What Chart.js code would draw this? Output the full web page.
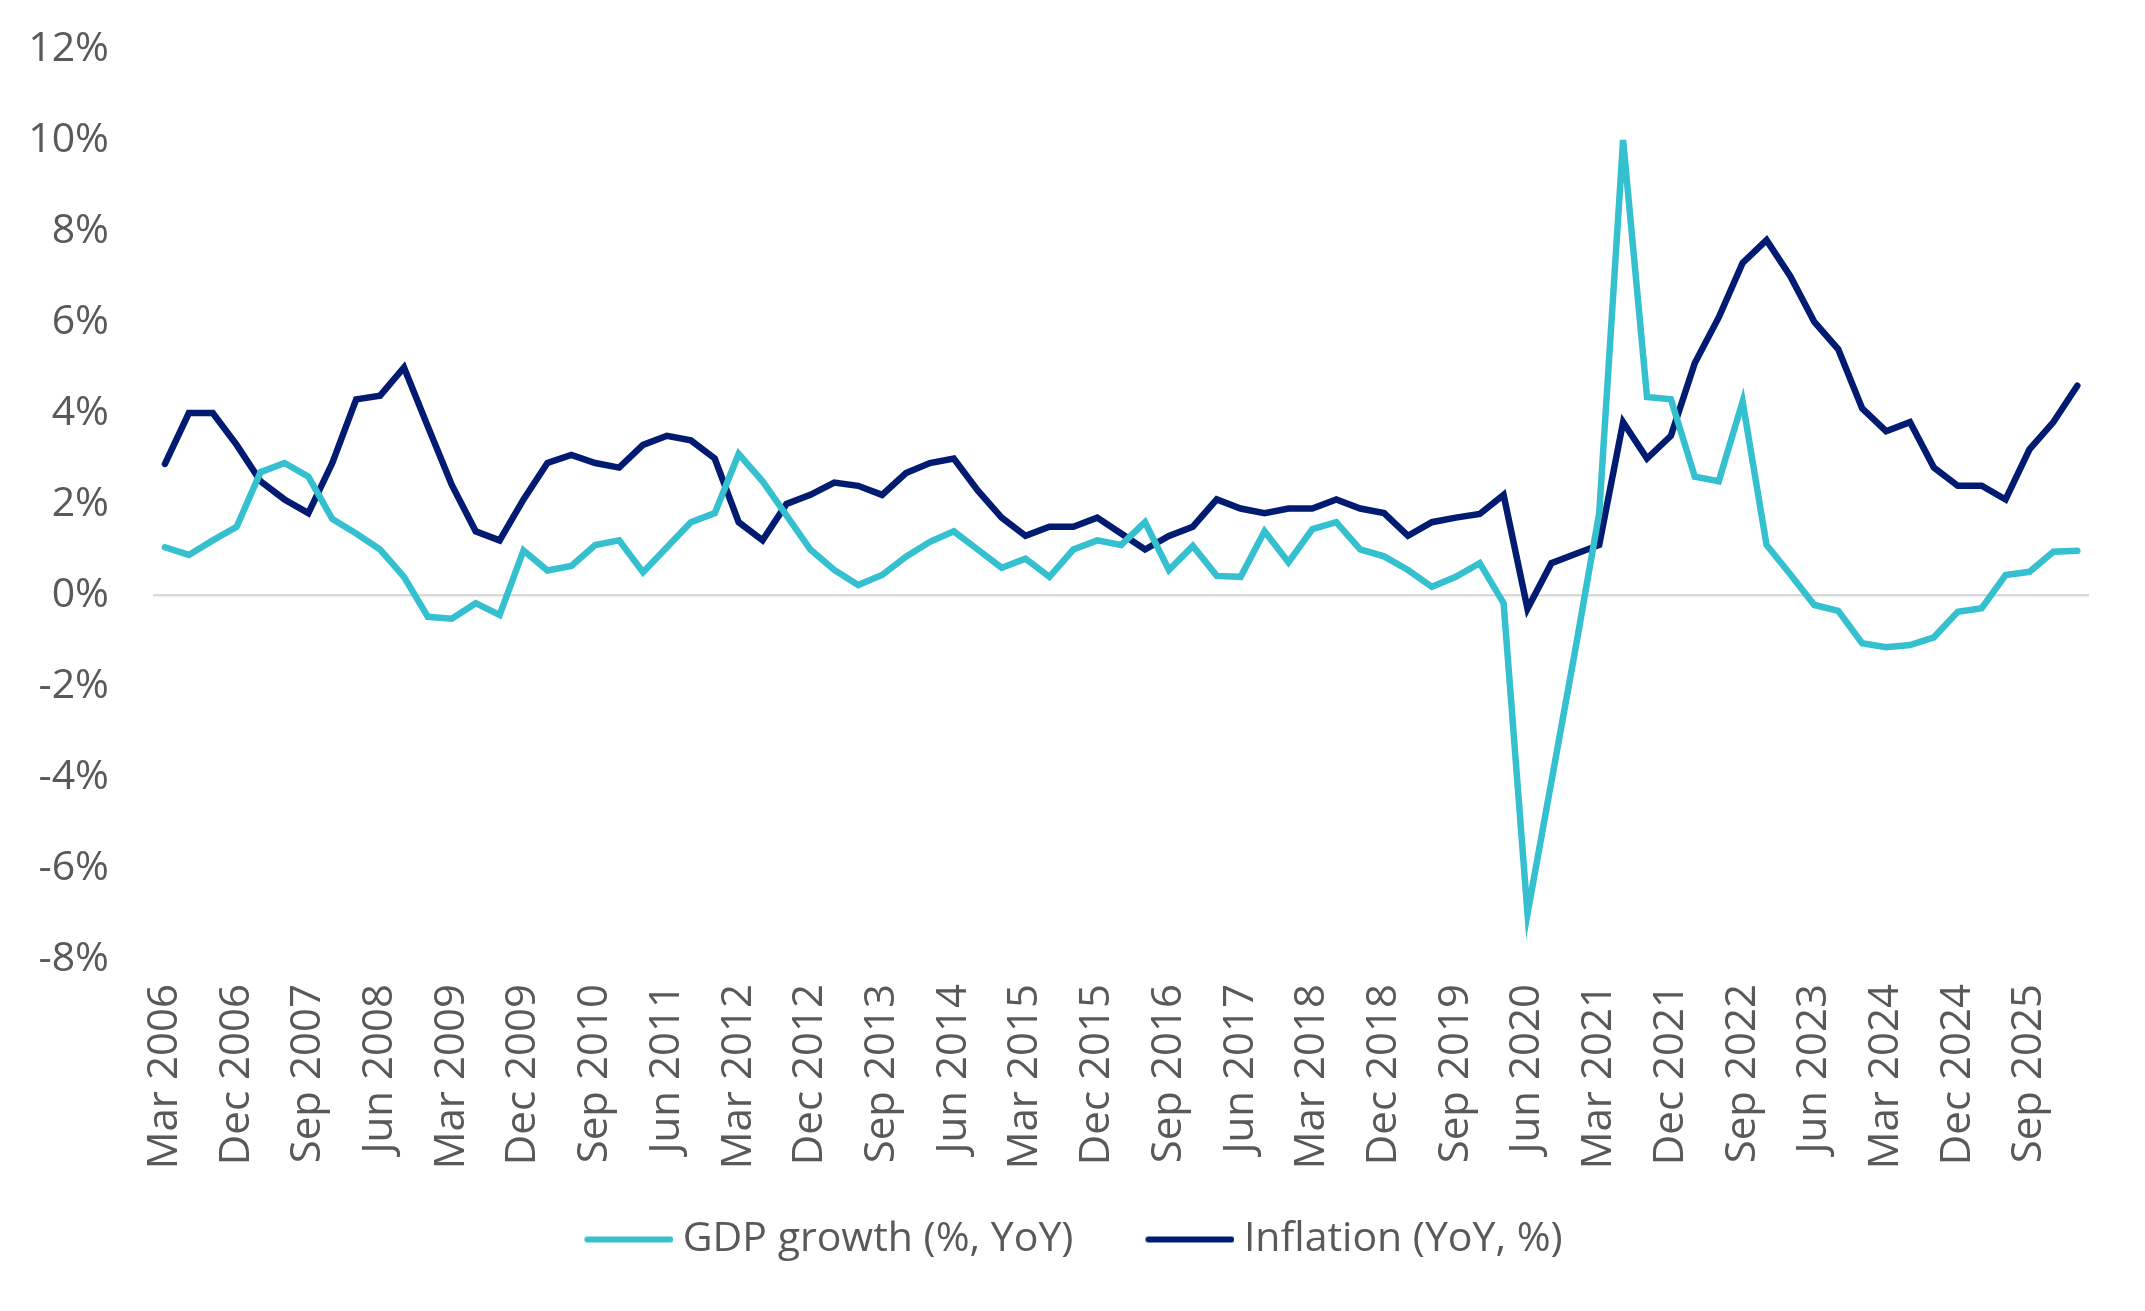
<!DOCTYPE html>
<html>
<head>
<meta charset="utf-8">
<script src="https://cdn.jsdelivr.net/npm/chart.js@4"></script>
<style>
  html, body { margin: 0; padding: 0; background: #ffffff; }
  #wrap { width: 2145px; height: 1311px; position: relative; }
</style>
</head>
<body>
<div id="wrap"><canvas id="chart"></canvas></div>
<script>
// quarters shown on the x axis (Mar 2006 .. Mar 2026)
const quarters = [
  "Mar 2006","Jun 2006","Sep 2006","Dec 2006","Mar 2007","Jun 2007","Sep 2007","Dec 2007",
  "Mar 2008","Jun 2008","Sep 2008","Dec 2008","Mar 2009","Jun 2009","Sep 2009","Dec 2009",
  "Mar 2010","Jun 2010","Sep 2010","Dec 2010","Mar 2011","Jun 2011","Sep 2011","Dec 2011",
  "Mar 2012","Jun 2012","Sep 2012","Dec 2012","Mar 2013","Jun 2013","Sep 2013","Dec 2013",
  "Mar 2014","Jun 2014","Sep 2014","Dec 2014","Mar 2015","Jun 2015","Sep 2015","Dec 2015",
  "Mar 2016","Jun 2016","Sep 2016","Dec 2016","Mar 2017","Jun 2017","Sep 2017","Dec 2017",
  "Mar 2018","Jun 2018","Sep 2018","Dec 2018","Mar 2019","Jun 2019","Sep 2019","Dec 2019",
  "Mar 2020","Jun 2020","Sep 2020","Dec 2020","Mar 2021","Jun 2021","Sep 2021","Dec 2021",
  "Mar 2022","Jun 2022","Sep 2022","Dec 2022","Mar 2023","Jun 2023","Sep 2023","Dec 2023",
  "Mar 2024","Jun 2024","Sep 2024","Dec 2024","Mar 2025","Jun 2025","Sep 2025","Dec 2025",
  "Mar 2026"
];

// GDP growth (%, YoY)
const gdpGrowth = [
  1.05, 0.88, 1.2, 1.5, 2.7, 2.9, 2.6, 1.67, 1.35, 1.0, 0.4, -0.48, -0.52, -0.18, -0.44, 0.98,
  0.54, 0.64, 1.1, 1.2, 0.5, 1.05, 1.6, 1.8, 3.1, 2.5, 1.75, 1.0, 0.55, 0.22, 0.44, 0.84,
  1.17, 1.4, 1.0, 0.6, 0.8, 0.4, 1.0, 1.2, 1.1, 1.6, 0.55, 1.08, 0.42, 0.4, 1.4, 0.72,
  1.45, 1.6, 1.0, 0.85, 0.55, 0.18, 0.4, 0.7, -0.18, -7.0, -4.1, -1.2, 1.8, 10.0, 4.35, 4.3,
  2.6, 2.5, 4.25, 1.1, 0.45, -0.22, -0.35, -1.06, -1.15, -1.1, -0.93, -0.37, -0.29, 0.44, 0.51, 0.95,
  0.97
];

// Inflation (YoY, %)
const inflation = [
  2.88, 4.0, 4.0, 3.3, 2.5, 2.1, 1.8, 2.9, 4.3, 4.38, 5.0, 3.7, 2.42, 1.4, 1.2, 2.1,
  2.9, 3.08, 2.9, 2.8, 3.3, 3.5, 3.4, 3.0, 1.6, 1.2, 2.0, 2.2, 2.47, 2.4, 2.2, 2.68,
  2.9, 3.0, 2.3, 1.7, 1.3, 1.5, 1.5, 1.7, 1.35, 1.0, 1.3, 1.5, 2.1, 1.9, 1.8, 1.9,
  1.9, 2.1, 1.9, 1.8, 1.3, 1.6, 1.7, 1.78, 2.2, -0.3, 0.7, 0.9, 1.1, 3.8, 3.0, 3.5,
  5.1, 6.1, 7.3, 7.8, 7.0, 6.0, 5.4, 4.1, 3.6, 3.8, 2.8, 2.4, 2.4, 2.1, 3.2, 3.8,
  4.6
];

// y axis ticks
const yMin = -8;
const yMax = 12;
const yStep = 2;

const textColor = "#595959";
const fontFamily = "'Open Sans', 'DejaVu Sans', sans-serif";

// line swatch for the legend: blank space on the left makes the gap
// between items, the line itself sits close to its text
function legendLine(color) {
  const c = document.createElement("canvas");
  c.width = 152;
  c.height = 10;
  const g = c.getContext("2d");
  g.strokeStyle = color;
  g.lineWidth = 6;
  g.lineCap = "round";
  g.beginPath();
  g.moveTo(66, 5);
  g.lineTo(149, 5);
  g.stroke();
  return c;
}

const chart = new Chart(document.getElementById("chart"), {
  type: "line",
  data: {
    labels: quarters,
    datasets: [
      {
        label: "GDP growth (%, YoY)",
        data: gdpGrowth,
        borderColor: "#34c0cf",
        backgroundColor: "#34c0cf",
        borderWidth: 6.5,
        pointRadius: 0,
        pointStyle: legendLine("#34c0cf"),
        tension: 0,
        borderCapStyle: "round"
      },
      {
        label: "Inflation (YoY, %)",
        data: inflation,
        borderColor: "#001b71",
        backgroundColor: "#001b71",
        borderWidth: 6.5,
        pointRadius: 0,
        pointStyle: legendLine("#001b71"),
        tension: 0,
        borderCapStyle: "round"
      }
    ]
  },
  options: {
    responsive: true,
    maintainAspectRatio: false,
    animation: false,
    layout: { padding: { top: 49, right: 50, bottom: 41, left: 0 } },
    plugins: {
      tooltip: { enabled: false },
      legend: {
        position: "bottom",
        labels: {
          usePointStyle: true,
          pointStyleWidth: 130,
          color: textColor,
          padding: 20,
          font: { family: fontFamily, size: 41 }
        }
      }
    },
    scales: {
      x: {
        offset: true,
        grid: { display: false },
        border: { display: false },
        ticks: {
          autoSkip: false,
          minRotation: 90,
          maxRotation: 90,
          padding: 17,
          color: textColor,
          font: { family: fontFamily, size: 42 },
          // every third quarter is labelled
          callback: function (value, index) {
            return index % 3 === 0 ? quarters[index] : "";
          }
        },
        afterFit: function (scale) { scale.height = 240; }
      },
      y: {
        min: yMin,
        max: yMax,
        border: { display: false },
        grid: {
          drawTicks: false,
          lineWidth: 2.5,
          color: function (ctx) {
            return ctx.tick && ctx.tick.value === 0 ? "#d9d9d9" : "rgba(0,0,0,0)";
          }
        },
        ticks: {
          stepSize: yStep,
          padding: 44,
          color: textColor,
          font: { family: fontFamily, size: 41 },
          callback: function (value) { return value + "%"; }
        },
        afterFit: function (scale) {
          scale.width = 153;
          // keep the tick padding from pushing the plot area down
          scale.paddingTop = 0;
          scale.paddingBottom = 0;
        }
      }
    }
  }
});
</script>
</body>
</html>
